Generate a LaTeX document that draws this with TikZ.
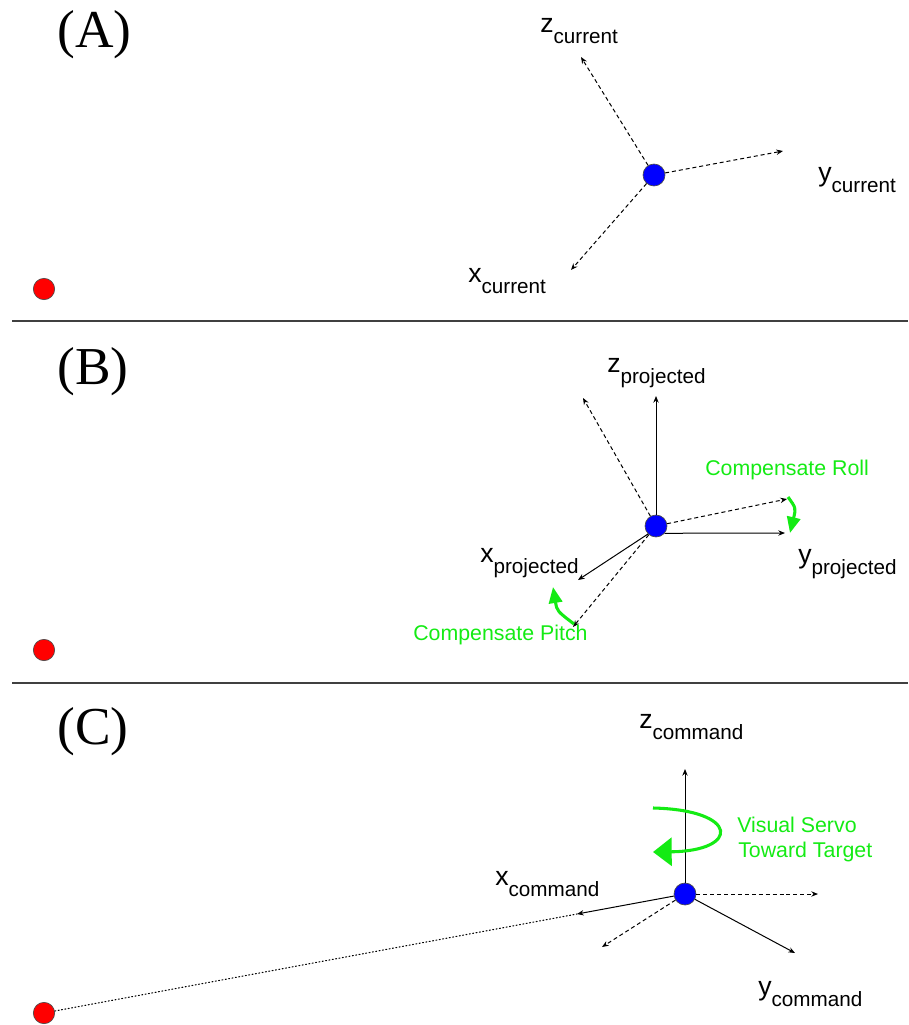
\documentclass[tikz,border=0pt]{standalone}
\usepackage{fontspec}
\setmainfont{Liberation Serif}
\setsansfont{Liberation Sans}
\usepackage{tikz}
\usetikzlibrary{arrows.meta}

\definecolor{servogreen}{RGB}{20,235,20}
\newcommand{\frm}[2]{{\fontsize{20}{20}\selectfont #1}\raisebox{-8.7pt}{\fontsize{15.5}{15.5}\selectfont #2}}

\begin{document}
\begin{tikzpicture}
[x=0.75pt, y=-0.75pt,
 target/.style={circle, draw=black!70, line width=0.5pt, fill=red, minimum size=16pt, inner sep=0pt},
 body/.style={circle, draw=black!70, line width=0.5pt, fill=blue, minimum size=16.5pt, inner sep=0pt},
 axis/.style={line width=0.75pt, -{Stealth[length=5pt, width=4pt]}},
 oldaxis/.style={axis, dash pattern=on 3pt off 2.2pt},
 aim/.style={line width=0.8pt, dash pattern=on 0.75pt off 1.8pt, line cap=round},
 turn/.style={servogreen, line width=2.3pt, -{Triangle[length=12pt, width=10pt]}},
 frame/.style={font=\sffamily, anchor=base west, inner sep=0pt},
 note/.style={font=\sffamily\fontsize{16}{16}\selectfont, text=servogreen, anchor=base west, inner sep=0pt},
 panel/.style={font=\fontsize{40}{40}\selectfont, anchor=base west, inner sep=0pt},
 rule/.style={line width=1pt, black!75}]

\useasboundingbox (0,0) rectangle (908,1025);

% (A) current attitude
\node [panel] (panelA) at (57,47) {(A)};
\node [target] (targetA) at (44,289) {};
\node [body] (bodyA) at (654,175) {};
\coordinate (zA) at (581,57);
\coordinate (yA) at (783,151);
\coordinate (xA) at (571,270);
\draw [oldaxis] (bodyA) -- (zA);
\draw [oldaxis] (bodyA) -- (yA);
\draw [oldaxis] (bodyA) -- (xA);
\node [frame] (zlabA) at (540,32) {\frm{z}{current}};
\node [frame] (ylabA) at (818,181) {\frm{y}{current}};
\node [frame] (xlabA) at (468,282) {\frm{x}{current}};

\draw [rule] (12,321) -- (908,321);

% (B) projected frame
\node [panel] (panelB) at (57,384) {(B)};
\node [target] (targetB) at (44,650) {};
\node [body] (bodyB) at (656,526) {};
\coordinate (zB) at (656,396);
\coordinate (zoldB) at (583,398);
\coordinate (yB) at (785,533);
\coordinate (yoldB) at (787,499);
\coordinate (xB) at (578,580);
\coordinate (xoldB) at (573,627);
\draw [oldaxis] (bodyB) -- (zoldB);
\draw [oldaxis] (bodyB) -- (yoldB);
\draw [oldaxis] (bodyB) -- (xoldB);
\draw [axis] (bodyB.north) -- (zB);
\draw [axis] (bodyB.-40) -- (yB);
\draw [axis] (bodyB.-135) -- (xB);
\node [frame] (zlabB) at (607,372) {\frm{z}{projected}};
\node [frame] (ylabB) at (798,563) {\frm{y}{projected}};
\node [frame] (xlabB) at (480,562) {\frm{x}{projected}};

\node [note] (roll) at (705,475) {Compensate Roll};
\node [note] (pitch) at (413,640) {Compensate Pitch};
\draw [turn] (788,497) .. controls (796,508) .. (790,533);
\draw [turn] (574,624) .. controls (557,611) .. (553,587);

\draw [rule] (12,683) -- (908,683);

% (C) command frame
\node [panel] (panelC) at (57,744) {(C)};
\node [target] (targetC) at (44,1013) {};
\node [body] (bodyC) at (685,894) {};
\coordinate (zC) at (685,769);
\coordinate (yC) at (795,953);
\coordinate (yoldC) at (818,894);
\coordinate (xC) at (577,914);
\coordinate (xoldC) at (602,947);
\draw [aim] (targetC) -- (xC);
\draw [oldaxis] (bodyC) -- (yoldC);
\draw [oldaxis] (bodyC) -- (xoldC);
\draw [axis] (bodyC.north) -- (zC);
\draw [axis] (bodyC) -- (yC);
\draw [axis] (bodyC) -- (xC);
\node [frame] (zlabC) at (639,728) {\frm{z}{command}};
\node [frame] (ylabC) at (758,995) {\frm{y}{command}};
\node [frame] (xlabC) at (495,885) {\frm{x}{command}};

\draw [turn, -{Triangle[length=14pt, width=21pt]}] (653,808) .. controls (740,810) and (740,851) .. (653,852);
\node [note] (servo) at (737,832) {Visual Servo};
\node [note] (toward) at (738,857) {Toward Target};

\end{tikzpicture}
\end{document}
